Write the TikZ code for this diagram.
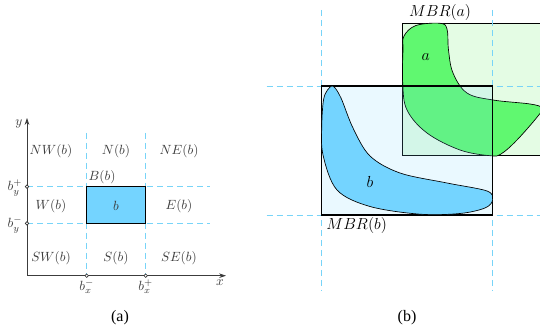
\documentclass[tikz,border=0pt]{standalone}
\usepackage{amsmath, amssymb}
\usepackage{fontspec}
\usepackage{tikz}
\usetikzlibrary{arrows.meta}
\newfontfamily\captionfont{Liberation Serif}
\definecolor{gridcyan}{RGB}{120, 212, 248}
\definecolor{boxblue}{RGB}{116, 212, 255}
\definecolor{shapegreen}{RGB}{96, 248, 112}
\definecolor{palegreen}{RGB}{228, 252, 228}
\definecolor{labelgray}{RGB}{60, 60, 60}
\tikzset{
  >=Stealth,
  gridline/.style={gridcyan, line width=0.6pt, dash pattern=on 4.5pt off 3pt},
  axisarrow/.style={-{Stealth[length=1.8mm, width=1.2mm]}, line width=0.5pt, labelgray},
  tickdot/.style={circle, draw=black!80, fill=white, line width=0.5pt, inner sep=0pt, minimum size=2.6pt},
  regionlabel/.style={font=\normalsize, text=labelgray},
  ticklabel/.style={regionlabel, inner sep=0.5pt},
  subcaption/.style={font=\captionfont\large},
  mbrbox/.style={draw=black, line width=0.8pt},
  blobline/.style={draw=black, line width=0.5pt}
}

\begin{document}
\begin{tikzpicture}[x=0.75pt, y=-0.75pt]
    \useasboundingbox (0,0) rectangle (540,334);
    \clip (0,0) rectangle (540,334);

    % --- PANEL (a): DIRECTION TILES ---
    \coordinate (o) at (27, 275.7);
    \coordinate (xend) at (226, 275.7);
    \coordinate (yend) at (27, 118);
    \coordinate (bxl) at (86.7, 275.7);
    \coordinate (bxr) at (145.7, 275.7);
    \coordinate (byt) at (27, 186.7);
    \coordinate (byb) at (27, 223.3);

    % dashed tile borders
    \draw[gridline] (86.7, 133) -- (bxl);
    \draw[gridline] (145.7, 133) -- (bxr);
    \draw[gridline] (byt) -- (210, 186.7);
    \draw[gridline] (byb) -- (210, 223.3);

    % the box b
    \draw[fill=boxblue, draw=black, line width=0.8pt] (86.7, 186.7) rectangle (145.7, 223.3);
    \node[regionlabel] (bb) at (116, 206) {$b$};
    \node[regionlabel] (Bb) at (102, 177.5) {$B(b)$};

    % axes
    \draw[axisarrow] (o) -- (xend);
    \draw[axisarrow] (o) -- (yend);
    \node[ticklabel] (xlab) at (220, 283) {$x$};
    \node[ticklabel] (ylab) at (19, 124) {$y$};

    % tile names
    \node[regionlabel] (nw) at (51, 151) {$NW(b)$};
    \node[regionlabel] (n) at (116, 151) {$N(b)$};
    \node[regionlabel] (ne) at (179, 151) {$NE(b)$};
    \node[regionlabel] (w) at (51, 206) {$W(b)$};
    \node[regionlabel] (e) at (179, 206) {$E(b)$};
    \node[regionlabel] (sw) at (51, 258) {$SW(b)$};
    \node[regionlabel] (s) at (116, 258) {$S(b)$};
    \node[regionlabel] (se) at (179, 258) {$SE(b)$};

    % ticks on the axes
    \node[tickdot] (tyt) at (byt) {};
    \node[tickdot] (tyb) at (byb) {};
    \node[tickdot] (txl) at (bxl) {};
    \node[tickdot] (txr) at (bxr) {};
    \node[ticklabel] (lyt) at (15, 188) {$b_y^+$};
    \node[ticklabel] (lyb) at (15, 225) {$b_y^-$};
    \node[ticklabel] (lxl) at (86.7, 287) {$b_x^-$};
    \node[ticklabel] (lxr) at (145.7, 287) {$b_x^+$};

    \node[subcaption] (capa) at (120, 318) {(a)};

    % --- PANEL (b): MBRs OF TWO REGIONS ---
    % MBR(a) and region a
    \draw[mbrbox, fill=palegreen] (402.7, 23.3) rectangle (560, 155.7);
    \draw[blobline, fill=shapegreen] plot[smooth cycle, tension=0.6] coordinates {
        (404, 36) (416, 25.5) (440, 23.3) (447, 29) (448.5, 50) (453, 73)
        (467, 93) (493, 100) (530, 104) (542, 108) (538, 116) (517, 140)
        (501, 154) (490, 155.7) (460, 150) (427, 133) (407, 110) (402.7, 83) (403, 50)};
    \node[font=\large] (alab) at (425.7, 56.7) {$a$};

    % MBR(b) shaded over a
    \fill[boxblue, opacity=0.15] (321.7, 86) rectangle (492.7, 215);

    % dashed extents of MBR(b)
    \draw[gridline] (321.7, 10) -- (321.7, 291);
    \draw[gridline] (492.7, 10) -- (492.7, 291);
    \draw[gridline] (266.7, 86) -- (540, 86);
    \draw[gridline] (266.7, 215) -- (540, 215);

    \draw[mbrbox] (321.7, 86) rectangle (492.7, 215);

    % region b
    \draw[blobline, fill=boxblue] plot[smooth cycle, tension=0.55] coordinates {
        (333.3, 86.3) (341, 98) (353, 128) (370, 156) (400, 173) (447, 183) (487, 191)
        (492.6, 200) (485, 208) (460, 213.5) (420, 214.2) (370, 206.5)
        (337, 190) (323, 155) (321.8, 125) (323.5, 100) (327.5, 90)};
    \node[font=\large] (blab) at (370, 181.7) {$b$};

    \node[font=\large] (mbra) at (440, 13) {$MBR(a)$};
    \node[font=\large] (mbrb) at (356.7, 225.7) {$MBR(b)$};

    \node[subcaption] (capb) at (407, 318) {(b)};
\end{tikzpicture}
\end{document}
